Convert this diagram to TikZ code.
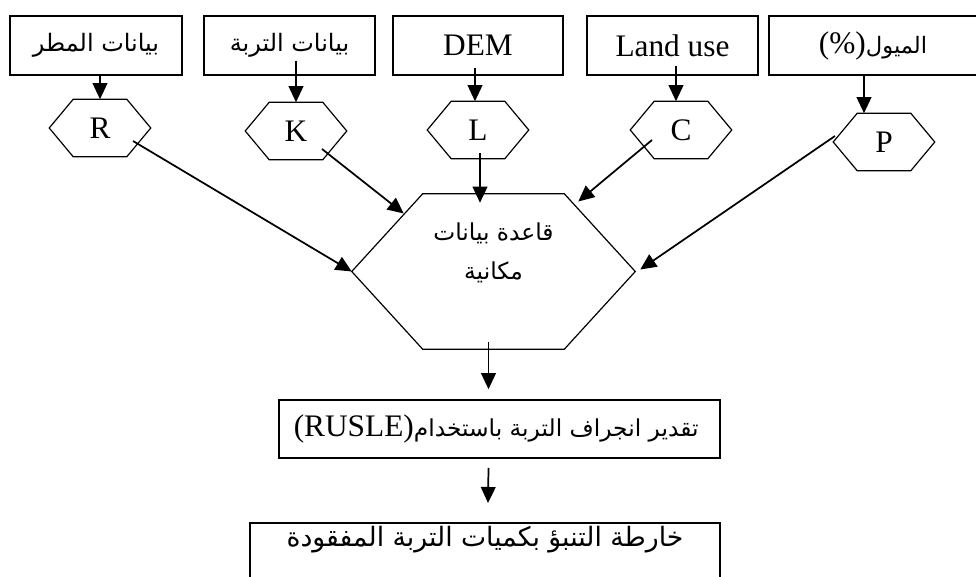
\documentclass[tikz,border=0pt]{standalone}
\usepackage{fontspec}
\setmainfont{Liberation Serif}
\newfontfamily\arabicfont[Script=Arabic]{DejaVu Sans}
\TeXXeTstate=1
\usetikzlibrary{calc,arrows.meta}
\newcommand{\artext}[2][18]{{\arabicfont\fontsize{#1}{27}\selectfont\beginR #2\endR}}
\newcommand{\makehex}[2]{
	\draw[hexline] ($(#1.north west)+(#2,0)$) -- ($(#1.north east)+(-#2,0)$) -- (#1.east)
		-- ($(#1.south east)+(-#2,0)$) -- ($(#1.south west)+(#2,0)$) -- (#1.west) -- cycle;
}

\begin{document}
\begin{tikzpicture}[x=0.75pt,y=-0.75pt,
	box/.style={draw, line width=1.2pt, inner sep=0pt, minimum height=44.25pt},
	hex/.style={inner sep=0pt, minimum width=75.75pt, minimum height=42.75pt},
	hexline/.style={line width=0.9pt},
	arr/.style={-{Triangle[length=12pt,width=11pt]}, line width=1.3pt},
	font=\fontsize{23.5}{27}\selectfont]
	\clip (0,0) rectangle (976,577);

	% input data
	\node[box, minimum width=129pt] (rain) at (96,45.5) {\artext{بيانات المطر}};
	\node[box, minimum width=128.25pt] (soil) at (289.5,45.5) {\artext{بيانات التربة}};
	\node[box, minimum width=127.5pt] (dem) at (478,45.5) {DEM};
	\node[box, minimum width=128.25pt] (land) at (672.5,45.5) {Land use};
	\node[box, minimum width=156pt] (slope) at (873,45.5) {(\%)\artext[17]{الميول}};

	% factors
	\node[hex] (R) at (100,128) {R};
	\node[hex] (K) at (296,131) {K};
	\node[hex] (L) at (478,130) {L};
	\node[hex] (C) at (681,130) {C};
	\node[hex] (P) at (884,142) {P};
	\makehex{R}{24}
	\makehex{K}{24}
	\makehex{L}{24}
	\makehex{C}{24}
	\makehex{P}{24}

	\node[inner sep=0pt, minimum width=212.25pt, minimum height=116.25pt] (db) at (493.5,271.5) {};
	\makehex{db}{71}
	\node[align=center] (dbtext) at (493.5,253) {\artext[17.5]{قاعدة بيانات}\\[2pt]\artext[17.5]{مكانية}};

	% results
	\node[box, minimum width=330.75pt, minimum height=43.5pt] (rusle) at (499.5,429)
		{\hspace*{-5pt}(RUSLE)\artext[17.5]{تقدير انجراف التربة باستخدام}};
	\node[box, minimum width=352.5pt, anchor=north, inner ysep=3pt, text height=15pt, text depth=28pt] (map)
		at (485,522) {\artext[20]{خارطة التنبؤ بكميات التربة المفقودة}};

	\draw[arr] (R.north |- rain.south) -- (R.north);
	\draw[arr] ($(K.north |- soil.south)+(0,-15)$) -- (K.north);
	\draw[arr] ($(L.north |- dem.south)+(-3,-8)$) -- ($(L.north)+(-3,0)$);
	\draw[arr] ($(C.north |- land.south)+(-5,-10)$) -- ($(C.north)+(-5,0)$);
	\draw[arr] ($(P.north |- slope.south)+(-20,0)$) -- ($(P.north)+(-20,0)$);

	\draw[arr] ($(R)+(33,13)$) -- (db.west);
	\draw[arr] ($(K)+(26,18)$) -- ($(db.west)+(52,-58)$);
	\draw[arr] ($(L)+(2,23)$) -- ($(L |- db.north)+(2,9)$);
	\draw[arr] ($(C)+(-29,10)$) -- ($(db.east)+(-57,-70)$);
	\draw[arr] ($(P)+(-49,-6)$) -- ($(db.east)+(5,-2)$);

	\draw[arr] ($(db.south)+(-5,-7)$) -- ($(rusle.north -| db.south)+(-5,-10)$);
	\draw[arr] ($(rusle.south)+(-11,9)$) -- ($(map.north)+(3,-19)$);
\end{tikzpicture}
\end{document}
